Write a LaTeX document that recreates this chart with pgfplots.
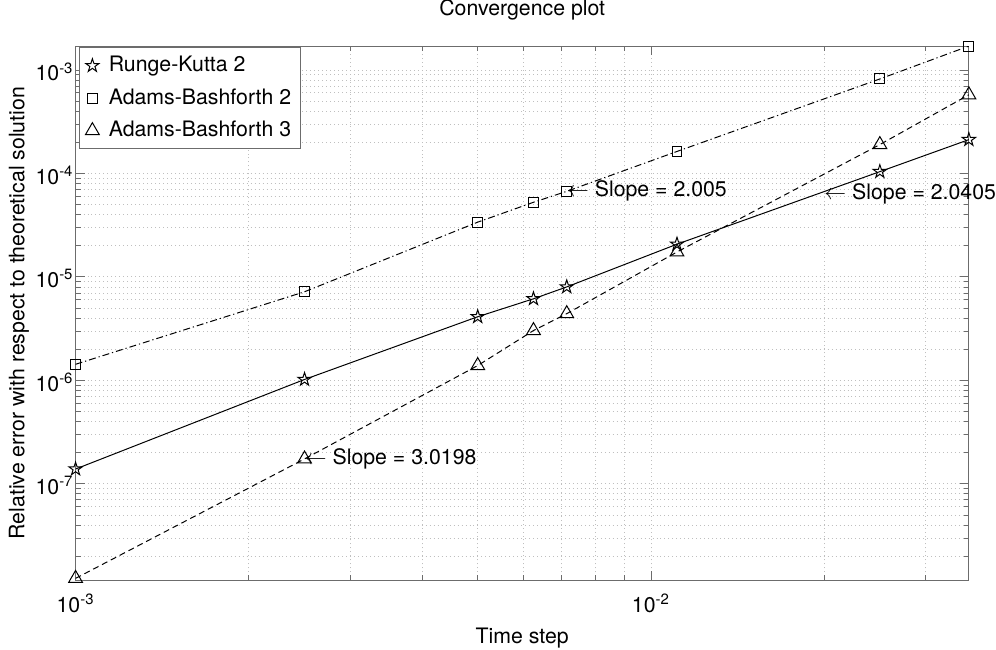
\documentclass[border=0pt]{standalone}
\usepackage{fontspec}
\setmainfont{TeX Gyre Heros}
\usepackage{pgfplots}
\pgfplotsset{compat=1.18}

% outline five-pointed star, like MATLAB's 'p' marker
\pgfdeclareplotmark{pentagram}{%
  \pgfpathmoveto{\pgfpointpolar{90}{\pgfplotmarksize}}%
  \pgfpathlineto{\pgfpointpolar{126}{0.382\pgfplotmarksize}}%
  \pgfpathlineto{\pgfpointpolar{162}{\pgfplotmarksize}}%
  \pgfpathlineto{\pgfpointpolar{198}{0.382\pgfplotmarksize}}%
  \pgfpathlineto{\pgfpointpolar{234}{\pgfplotmarksize}}%
  \pgfpathlineto{\pgfpointpolar{270}{0.382\pgfplotmarksize}}%
  \pgfpathlineto{\pgfpointpolar{306}{\pgfplotmarksize}}%
  \pgfpathlineto{\pgfpointpolar{342}{0.382\pgfplotmarksize}}%
  \pgfpathlineto{\pgfpointpolar{18}{\pgfplotmarksize}}%
  \pgfpathlineto{\pgfpointpolar{54}{0.382\pgfplotmarksize}}%
  \pgfpathclose
  \pgfusepathqstroke
}

\begin{document}
\begin{tikzpicture}
\begin{loglogaxis}[
    scale only axis,
    clip mode=individual,
    width=449pt, height=268.5pt,
    xmin=0.001, xmax=0.0357,
    ymin=1.17e-8, ymax=1.7e-3,
    font=\fontsize{10.7}{12.8}\selectfont,
    title={Convergence plot},
    title style={at={(axis description cs:0.5,1)},anchor=center,inner sep=0pt,yshift=12pt},
    xlabel={Time step},
    ylabel={Relative error with respect to theoretical solution},
    every axis x label/.style={at={(axis description cs:0.5,0)},anchor=center,inner sep=0pt,yshift=-29pt},
    every axis y label/.style={at={(axis description cs:0,0.5)},anchor=center,inner sep=0pt,xshift=-28.5pt,rotate=90},
    xtick={0.001,0.01},
    xticklabels={10\textsuperscript{-3},10\textsuperscript{-2}},
    minor xtick={0.002,0.003,0.004,0.005,0.006,0.007,0.008,0.009,0.02,0.03},
    ytick={1e-7,1e-6,1e-5,1e-4,1e-3},
    yticklabels={10\textsuperscript{-7},10\textsuperscript{-6},10\textsuperscript{-5},10\textsuperscript{-4},10\textsuperscript{-3}},
    minor ytick={2e-8,3e-8,4e-8,5e-8,6e-8,7e-8,8e-8,9e-8,
                 2e-7,3e-7,4e-7,5e-7,6e-7,7e-7,8e-7,9e-7,
                 2e-6,3e-6,4e-6,5e-6,6e-6,7e-6,8e-6,9e-6,
                 2e-5,3e-5,4e-5,5e-5,6e-5,7e-5,8e-5,9e-5,
                 2e-4,3e-4,4e-4,5e-4,6e-4,7e-4,8e-4,9e-4},
    xticklabel style={yshift=-3.5pt},
    yticklabel style={xshift=2.5pt, yshift=-1pt},
    tick align=inside,
    major tick length=4.5pt, minor tick length=2.5pt,
    axis line style={gray!85!black},
    every tick/.style={gray!85!black, line width=0.4pt},
    grid=both,
    grid style={gray!50, line width=0.4pt, dash pattern=on 0.5pt off 1.5pt},
    minor grid style={gray!50, line width=0.4pt, dash pattern=on 0.5pt off 1.5pt},
    legend cell align=left,
    legend style={at={(0,1)}, anchor=north west, xshift=1.5pt, yshift=-0.5pt,
        draw=gray!85!black, fill=white, inner sep=2.5pt, row sep=3pt,
        font=\fontsize{10.7}{12.8}\selectfont},
    legend image code/.code={\path (0pt,0pt) (10pt,0pt);
        \draw[#1, only marks] plot coordinates {(4pt,0pt)};},
]
% Runge-Kutta 2
\addplot[black, line width=0.5pt, mark=pentagram, mark size=3.5pt, mark options={solid}] coordinates {
    (0.001,1.39e-7) (0.0025,1.02e-6) (0.005,4.12e-6) (0.00625,6.14e-6)
    (0.00714,8.0e-6) (0.0111,2.07e-5) (0.025,1.04e-4) (0.0357,2.12e-4)
};
% Adams-Bashforth 2
\addplot[black, line width=0.5pt, dash pattern=on 3.5pt off 1.5pt on 0.6pt off 1.5pt,
    mark=square, mark size=2.5pt, mark options={solid}] coordinates {
    (0.001,1.43e-6) (0.0025,7.18e-6) (0.005,3.38e-5) (0.00625,5.26e-5)
    (0.00714,6.71e-5) (0.0111,1.63e-4) (0.025,8.18e-4) (0.0357,1.70e-3)
};
% Adams-Bashforth 3
\addplot[black, line width=0.5pt, dash pattern=on 3pt off 2pt,
    mark=triangle, mark size=4pt, mark options={solid}] coordinates {
    (0.001,1.22e-8) (0.0025,1.74e-7) (0.005,1.39e-6) (0.00625,3.03e-6)
    (0.00714,4.41e-6) (0.0111,1.74e-5) (0.025,1.90e-4) (0.0357,5.75e-4)
};
\legend{Runge-Kutta 2, Adams-Bashforth 2, Adams-Bashforth 3}
\node[anchor=west, inner sep=0pt] at (axis cs:0.00714,6.71e-5) {$\leftarrow$ Slope = 2.005};
\node[anchor=west, inner sep=0pt] at (axis cs:0.02,6.3e-5) {$\leftarrow$ Slope = 2.0405};
\node[anchor=west, inner sep=0pt] at (axis cs:0.0025,1.74e-7) {$\leftarrow$ Slope = 3.0198};
\end{loglogaxis}
% page margins as in the reference
\path (current axis.south west) ++(-38pt,-35pt);
\path (current axis.north east) ++(11pt,23pt);
\end{tikzpicture}
\end{document}
